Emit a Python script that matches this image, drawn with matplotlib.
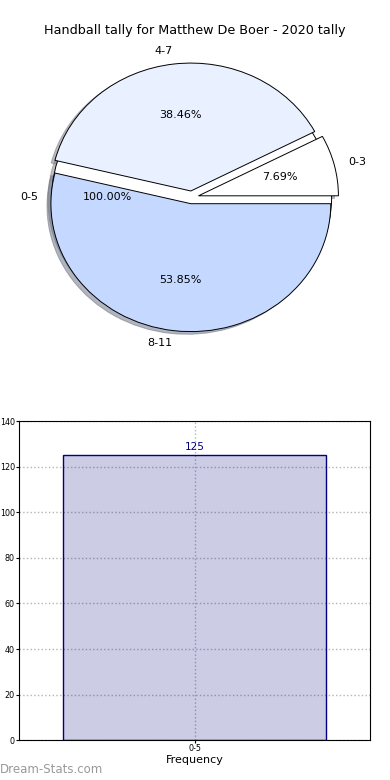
import numpy as np
import matplotlib.pyplot as plt

# ============================== DATA ==============================
title = 'Handball tally for Matthew De Boer - 2020 tally'

# outer (total) pie
total_labels = ['0-5']
total_values = [125]

# breakdown pie
tally_labels = ['0-3', '4-7', '8-11']
tally_pcts = [7.69, 38.46, 53.85]
tally_colors = ['#ffffff', '#e9f0ff', '#c5d8ff']

# frequency bars
bar_labels = ['0-5']
bar_values = [125]

# ============================== PLOT ==============================
fig = plt.figure(figsize=(3.9, 7.8), dpi=100)

# ---------------------------- pie ----------------------------
shadow = {'ox': -0.02, 'oy': -0.015, 'shade': 0.5}
ax1 = fig.add_axes([0.043, 0.542, 0.897, 0.410])
ax1.pie(total_values, labels=total_labels, colors=['#ffffff'], autopct='%.2f%%',
        shadow=shadow, startangle=0, textprops={'fontsize': 8},
        wedgeprops={'linewidth': 0.7, 'edgecolor': 'black'})
ax1.pie(tally_pcts, labels=tally_labels, colors=tally_colors, autopct='%.2f%%',
        explode=[0.05]*len(tally_pcts), shadow=shadow, startangle=0,
        textprops={'fontsize': 8},
        wedgeprops={'linewidth': 0.7, 'edgecolor': 'black'})
ax1.set_aspect('auto')
ax1.set_xlim(-1.25, 1.25)
ax1.set_ylim(-1.25, 1.25)
fig.text(0.5, 0.961, title, ha='center', va='center', fontsize=9.2)

# ---------------------------- bars ----------------------------
ax2 = fig.add_axes([0.049, 0.051, 0.900, 0.409])
x = np.arange(len(bar_values))
ax2.bar(x, bar_values, width=0.75, color='navy', alpha=0.2, zorder=2)
ax2.bar(x, bar_values, width=0.75, fill=False, edgecolor='navy', linewidth=1, zorder=3)
for xi, v in zip(x, bar_values):
    ax2.text(xi, v + 1.5, str(v), ha='center', va='bottom', color='navy', fontsize=7.5)
ax2.set_xlim(-0.5, 0.5)
ax2.set_ylim(0, 140)
ax2.set_yticks(np.arange(0, 141, 20))
ax2.set_xticks(x)
ax2.set_xticklabels(bar_labels)
ax2.tick_params(labelsize=5.8, direction='out', length=2, pad=1)
ax2.grid(True, linestyle=':', color='#b5b5b5', linewidth=1, zorder=0)
ax2.set_xlabel('Frequency', fontsize=8, labelpad=1)

fig.text(0.0, 0.005, 'Dream-Stats.com', color='#999999', fontsize=8.5,
         ha='left', va='bottom')

plt.savefig('out.png', dpi=100)
